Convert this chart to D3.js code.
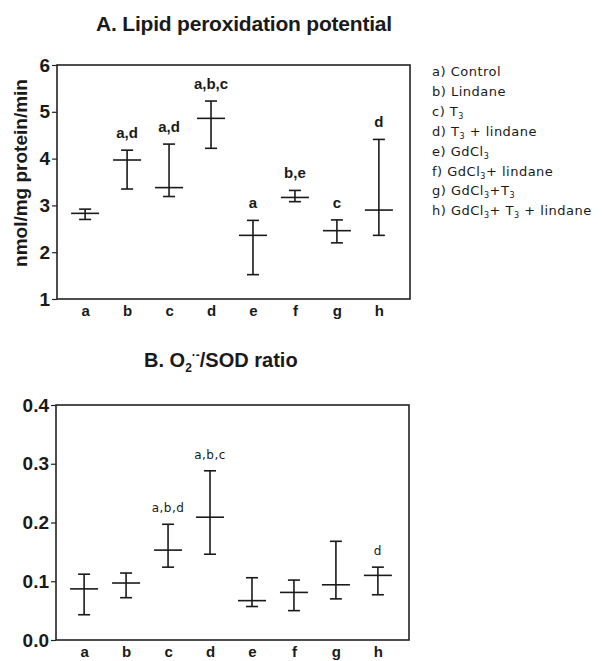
<!DOCTYPE html>
<html>
<head>
<meta charset="utf-8">
<script src="https://cdn.jsdelivr.net/npm/d3@7"></script>
<style>
  body { margin: 0; background: #fff; }
  svg { display: block; }
  text { fill: #1a1a1a; }
</style>
</head>
<body>
<svg id="chart" width="602" height="661"></svg>
<script>
// groups a..h, shared by both panels
const groups = ["a", "b", "c", "d", "e", "f", "g", "h"]

// A. lipid peroxidation potential (nmol/mg protein/min)
const lipidMean = [2.83, 3.97, 3.38, 4.86, 2.36, 3.17, 2.46, 2.90]
const lipidHigh = [2.92, 4.18, 4.31, 5.23, 2.68, 3.32, 2.69, 4.41]
const lipidLow  = [2.70, 3.35, 3.19, 4.22, 1.52, 3.08, 2.20, 2.36]
const lipidSig  = ["", "a,d", "a,d", "a,b,c", "a", "b,e", "c", "d"]
const lipidTicks = [1, 2, 3, 4, 5, 6]

// B. O2-/SOD ratio
const ratioMean = [0.087, 0.097, 0.153, 0.209, 0.067, 0.081, 0.094, 0.110]
const ratioHigh = [0.112, 0.114, 0.197, 0.288, 0.106, 0.102, 0.168, 0.124]
const ratioLow  = [0.043, 0.072, 0.124, 0.146, 0.057, 0.050, 0.070, 0.077]
const ratioSig  = ["", "", "a,b,d", "a,b,c", "", "", "", "d"]
const ratioTicks = [0.0, 0.1, 0.2, 0.3, 0.4]

// legend entries, split into plain and subscript pieces
const legendItems = [
  [["a) Control"]],
  [["b) Lindane"]],
  [["c) T"], ["3", "sub"]],
  [["d) T"], ["3", "sub"], [" + lindane"]],
  [["e) GdCl"], ["3", "sub"]],
  [["f)  GdCl"], ["3", "sub"], ["+ lindane"]],
  [["g) GdCl"], ["3", "sub"], ["+T"], ["3", "sub"]],
  [["h) GdCl"], ["3", "sub"], ["+ T"], ["3", "sub"], [" + lindane"]]
]

const svg = d3.select("#chart")
const font = "'Liberation Sans', Arial, sans-serif"

function panel(opts) {
  let x = d3.scalePoint().domain(groups).range([opts.left, opts.right - 3]).padding(0.67)
  let y = d3.scaleLinear().domain(opts.domain).range([opts.bottom, opts.top])
  let rows = groups.map((k, i) => ({
    k, mean: opts.mean[i], hi: opts.high[i], lo: opts.low[i], sig: opts.sig[i]
  }))
  let g = svg.append("g")

  // frame
  g.append("rect")
    .attr("x", opts.left).attr("y", opts.top)
    .attr("width", opts.right - opts.left).attr("height", opts.bottom - opts.top)
    .attr("fill", "none").attr("stroke", "#222").attr("stroke-width", 1.6)

  // y axis
  let yAxis = g.append("g")
    .attr("transform", `translate(${opts.left},0)`)
    .call(d3.axisLeft(y).tickValues(opts.ticks).tickSize(5).tickPadding(2).tickFormat(opts.fmt))
  yAxis.select(".domain").remove()
  yAxis.selectAll("line").attr("stroke", "#222").attr("stroke-width", 1.2)
  yAxis.selectAll("text")
    .style("font-family", font).style("font-weight", "bold").style("font-size", "19px")
    .attr("fill", "#1a1a1a")

  // x axis labels
  let xAxis = g.append("g")
    .attr("transform", `translate(0,${opts.bottom})`)
    .call(d3.axisBottom(x).tickSize(0).tickPadding(6))
  xAxis.select(".domain").remove()
  xAxis.selectAll("text")
    .style("font-family", font).style("font-weight", "bold").style("font-size", "15px")
    .attr("fill", "#1a1a1a")

  // error bars
  let bar = g.selectAll("g.bar").data(rows).join("g").attr("class", "bar")
    .attr("stroke", "#1a1a1a").attr("stroke-width", 1.6)
  bar.append("line")
    .attr("x1", d => x(d.k)).attr("x2", d => x(d.k))
    .attr("y1", d => y(d.hi)).attr("y2", d => y(d.lo))
  bar.append("line")
    .attr("x1", d => x(d.k) - 6).attr("x2", d => x(d.k) + 6)
    .attr("y1", d => y(d.hi)).attr("y2", d => y(d.hi))
  bar.append("line")
    .attr("x1", d => x(d.k) - 6).attr("x2", d => x(d.k) + 6)
    .attr("y1", d => y(d.lo)).attr("y2", d => y(d.lo))
  bar.append("line")
    .attr("x1", d => x(d.k) - 14).attr("x2", d => x(d.k) + 14)
    .attr("y1", d => y(d.mean)).attr("y2", d => y(d.mean))

  // significance letters
  g.selectAll("text.sig").data(rows.filter(d => d.sig)).join("text")
    .attr("class", "sig")
    .attr("x", d => x(d.k)).attr("y", d => y(d.hi) - 12)
    .attr("text-anchor", "middle")
    .style("font-family", opts.sigFont).style("font-weight", opts.sigWeight)
    .style("font-size", opts.sigSize).style("letter-spacing", opts.sigSpacing)
    .text(d => d.sig)

  return { x, y, g }
}

panel({
  left: 57, right: 410, top: 65, bottom: 299,
  domain: [1, 6], ticks: lipidTicks, fmt: d3.format("d"),
  mean: lipidMean, high: lipidHigh, low: lipidLow, sig: lipidSig,
  sigFont: font, sigWeight: "bold", sigSize: "15px", sigSpacing: "0px"
})

panel({
  left: 56, right: 409, top: 405, bottom: 640,
  domain: [0, 0.4], ticks: ratioTicks, fmt: d3.format(".1f"),
  mean: ratioMean, high: ratioHigh, low: ratioLow, sig: ratioSig,
  sigFont: "'DejaVu Sans', sans-serif", sigWeight: "normal", sigSize: "12px", sigSpacing: "0.5px"
})

// titles
svg.append("text")
  .attr("x", 244).attr("y", 31).attr("text-anchor", "middle")
  .style("font-family", font).style("font-weight", "bold").style("font-size", "21px")
  .style("letter-spacing", "-0.2px")
  .text("A. Lipid peroxidation potential")

let tB = svg.append("text")
  .attr("x", 144).attr("y", 367)
  .style("font-family", font).style("font-weight", "bold").style("font-size", "20px")
tB.append("tspan").text("B. O")
tB.append("tspan").attr("dy", 5).style("font-size", "12px").text("2")
tB.append("tspan").attr("dy", -13).style("font-size", "12px").text("·-")
tB.append("tspan").attr("dy", 8).text("/SOD ratio")

// y axis title
svg.append("text")
  .attr("transform", "translate(27,173) rotate(-90)")
  .attr("text-anchor", "middle")
  .style("font-family", font).style("font-weight", "bold").style("font-size", "19px")
  .text("nmol/mg protein/min")

// legend
let legend = svg.append("g").attr("transform", "translate(432,72)")
legend.selectAll("text").data(legendItems).join("text")
  .attr("y", (d, i) => i * 19.9 + 4)
  .style("font-family", "'DejaVu Sans', sans-serif").style("font-size", "13px")
  .style("letter-spacing", "0.5px")
  .each(function(parts) {
    let t = d3.select(this)
    parts.forEach(p => {
      let s = t.append("tspan").text(p[0])
      if (p[1] === "sub") s.attr("dy", 3).style("font-size", "8px")
      else if (t.selectAll("tspan").size() > 1) s.attr("dy", -3)
    })
  })
</script>
</body>
</html>
